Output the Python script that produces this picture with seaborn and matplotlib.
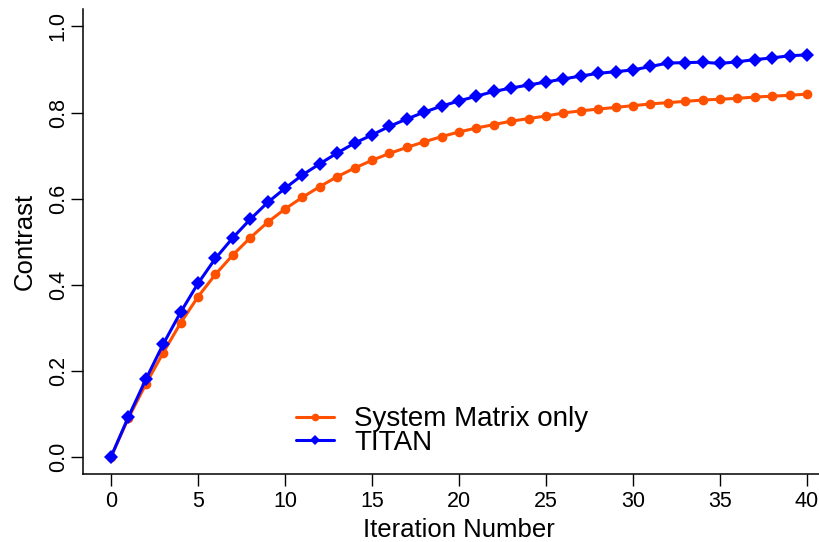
import numpy as np
import pandas as pd
import matplotlib
matplotlib.use("Agg")
import matplotlib.pyplot as plt
import seaborn as sns

# Contrast per iteration for the two reconstructions
iterations = list(range(41))
system_matrix_only = [
    0.000, 0.090, 0.169, 0.242, 0.311, 0.372, 0.424, 0.469, 0.509, 0.545,
    0.576, 0.603, 0.628, 0.651, 0.671, 0.689, 0.705, 0.719, 0.732, 0.744,
    0.755, 0.764, 0.772, 0.780, 0.786, 0.792, 0.799, 0.804, 0.808, 0.812,
    0.816, 0.820, 0.823, 0.826, 0.829, 0.831, 0.833, 0.836, 0.838, 0.840,
    0.843,
]
titan = [
    0.000, 0.093, 0.180, 0.262, 0.336, 0.403, 0.461, 0.509, 0.552, 0.591,
    0.624, 0.655, 0.681, 0.706, 0.729, 0.748, 0.768, 0.785, 0.801, 0.815,
    0.827, 0.838, 0.849, 0.857, 0.864, 0.871, 0.878, 0.885, 0.891, 0.895,
    0.899, 0.907, 0.915, 0.916, 0.917, 0.914, 0.918, 0.923, 0.927, 0.932,
    0.934,
]
series_names = ["System Matrix only", "TITAN"]
series_colors = ["#FF5000", "#0000FF"]
series_markers = ["o", "D"]
x_ticks = [0, 5, 10, 15, 20, 25, 30, 35, 40]
y_ticks = [0.0, 0.2, 0.4, 0.6, 0.8, 1.0]

df = pd.DataFrame({
    "Iteration Number": iterations * 2,
    "Contrast": system_matrix_only + titan,
    "method": [series_names[0]] * len(iterations) + [series_names[1]] * len(iterations),
})

sns.set_theme(style="ticks")
plt.rcParams["font.family"] = ["Liberation Sans", "DejaVu Sans"]
plt.rcParams["text.color"] = "black"

fig = plt.figure(figsize=(8.19, 5.42), dpi=100)
ax = fig.add_axes([0.1016, 0.1255, 0.9178, 0.8574])

for name, color, marker in zip(series_names, series_colors, series_markers):
    sns.lineplot(
        data=df[df["method"] == name], x="Iteration Number", y="Contrast",
        ax=ax, color=color, marker=marker, markersize=7 if marker == "o" else 7.5,
        markeredgewidth=0, linewidth=2.2, label=name,
    )

ax.set_xlim(-1.6, 41.6)
ax.set_ylim(-0.04, 1.04)
ax.set_xticks(x_ticks)
ax.set_xticklabels([str(t) for t in x_ticks])
ax.set_yticks(y_ticks)
ax.set_yticklabels([f"{t:.1f}" for t in y_ticks], rotation=90, va="center")

for side in ["top", "right"]:
    ax.spines[side].set_visible(False)
for side in ["left", "bottom"]:
    ax.spines[side].set_linewidth(1.1)
    ax.spines[side].set_color("black")

ax.tick_params(axis="both", length=8.5, width=1.0, color="black",
               labelsize=15.5, labelcolor="black", direction="out")
ax.tick_params(axis="y", pad=2)
ax.tick_params(axis="x", pad=4)

ax.set_xlabel("Iteration Number", fontsize=18.5, labelpad=4, color="black")
ax.set_ylabel("Contrast", fontsize=18.5, labelpad=8, color="black")

leg = ax.legend(
    loc="center left", bbox_to_anchor=(296 / 819, 1 - 431 / 542),
    bbox_transform=fig.transFigure, frameon=False, fontsize=20,
    handlelength=1.37, handletextpad=0.72, labelspacing=-0.09,
    borderpad=0, borderaxespad=0,
)
for h in leg.legend_handles:
    h.set_markersize(5.5)
for t in leg.get_texts():
    t.set_color("black")

fig.savefig("out.png", dpi=100)
